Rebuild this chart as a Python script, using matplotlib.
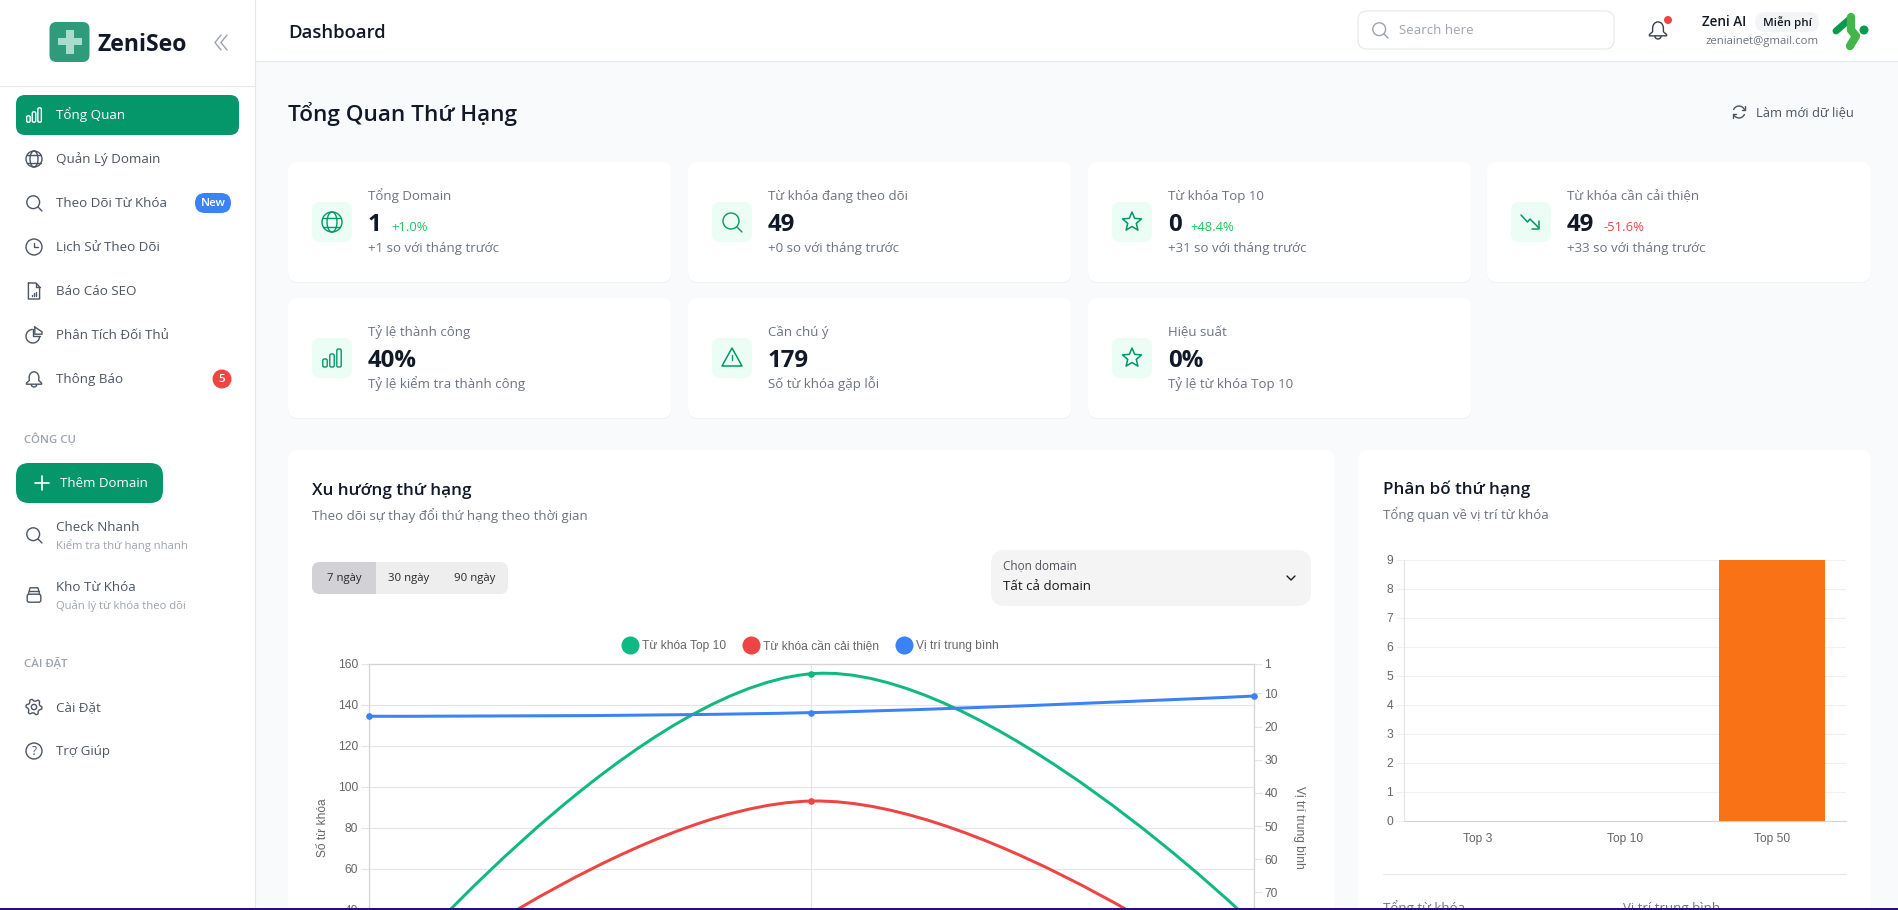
import numpy as np
import matplotlib
matplotlib.use('Agg')
import matplotlib.pyplot as plt
from matplotlib.lines import Line2D
from matplotlib.patches import FancyBboxPatch, Rectangle, Circle, Polygon, PathPatch, Arc, Ellipse
from matplotlib.path import Path

W, H = 1899, 910

# line chart data (ends of the first two series are below the visible page, estimated from the curve)
trend_x = [0, 1, 2]
top10_values = [-3, 155, 33]
improve_values = [-8, 93, 1]
avg_position = [16.9, 15.8, 10.8]
trend_labels = ['Từ khóa Top 10', 'Từ khóa cần cải thiện', 'Vị trí trung bình']
left_ticks = [40, 60, 80, 100, 120, 140, 160]
right_ticks = [1, 10, 20, 30, 40, 50, 60, 70]

# bar chart data
rank_labels = ['Top 3', 'Top 10', 'Top 50']
rank_values = [0, 0, 9]
rank_ticks = list(range(10))

# sidebar and cards text
nav_items = ['Tổng Quan', 'Quản Lý Domain', 'Theo Dõi Từ Khóa', 'Lịch Sử Theo Dõi',
             'Báo Cáo SEO', 'Phân Tích Đối Thủ', 'Thông Báo']
card_titles = ['Tổng Domain', 'Từ khóa đang theo dõi', 'Từ khóa Top 10', 'Từ khóa cần cải thiện',
               'Tỷ lệ thành công', 'Cần chú ý', 'Hiệu suất']
card_values = ['1', '49', '0', '49', '40%', '179', '0%']
card_deltas = ['+1.0%', '', '+48.4%', '-51.6%', '', '', '']
card_subs = ['+1 so với tháng trước', '+0 so với tháng trước', '+31 so với tháng trước',
             '+33 so với tháng trước', 'Tỷ lệ kiểm tra thành công', 'Số từ khóa gặp lỗi',
             'Tỷ lệ từ khóa Top 10']

GREEN = '#059669'
GRAY = '#4b5563'
plt.rcParams['font.family'] = ['Open Sans', 'DejaVu Sans']

fig = plt.figure(figsize=(W / 100, H / 100), dpi=100, facecolor='#f9fafb')
ui = fig.add_axes([0, 0, 1, 1], zorder=0)
ui.set_xlim(0, W)
ui.set_ylim(H, 0)
ui.axis('off')


def txt(x, y, s, px, color='#111827', weight='normal', ha='left'):
    # y is the visual middle of the text, px the css font size
    ui.text(x, y + 0.3 * px, s, fontsize=px * 0.72, color=color, fontweight=weight,
            ha=ha, va='baseline')


def rbox(x, y, w, h, r, fc, ec='none', lw=0, z=1):
    ui.add_patch(FancyBboxPatch((x, y), w, h, boxstyle=f'round,pad=0,rounding_size={r}',
                                fc=fc, ec=ec, lw=lw, zorder=z))


def stroke(xs, ys, color=GRAY, lw=1.0, z=3):
    ui.plot(xs, ys, color=color, lw=lw, solid_capstyle='round', solid_joinstyle='round', zorder=z)


def ring(cx, cy, r, color=GRAY, lw=1.0, fc='none'):
    ui.add_patch(Circle((cx, cy), r, fc=fc, ec=color, lw=lw, zorder=3))


def icon_bars(cx, cy, s, c):
    for dx, h in [(-0.7, 0.8), (0, 1.3), (0.7, 1.8)]:
        rbox(cx + dx * s - 0.22 * s, cy + s * 0.9 - h * s, 0.44 * s, h * s, 1.5, 'none', c, 1.0, 3)


def icon_globe(cx, cy, s, c):
    ring(cx, cy, s, c)
    ui.add_patch(Ellipse((cx, cy), s, 2 * s, fc='none', ec=c, lw=1.0, zorder=3))
    stroke([cx - s * 0.85, cx + s * 0.85], [cy - s * 0.45, cy - s * 0.45], c)
    stroke([cx - s * 0.85, cx + s * 0.85], [cy + s * 0.45, cy + s * 0.45], c)


def icon_search(cx, cy, s, c):
    ring(cx - 0.1 * s, cy - 0.1 * s, 0.8 * s, c)
    stroke([cx + 0.5 * s, cx + s], [cy + 0.5 * s, cy + s], c)


def icon_clock(cx, cy, s, c):
    ring(cx, cy, s, c)
    stroke([cx, cx, cx + 0.5 * s], [cy - 0.55 * s, cy, cy], c)


def icon_doc(cx, cy, s, c):
    stroke([cx - 0.7 * s, cx + 0.25 * s, cx + 0.7 * s, cx + 0.7 * s, cx - 0.7 * s, cx - 0.7 * s],
           [cy - s, cy - s, cy - 0.5 * s, cy + s, cy + s, cy - s], c)
    stroke([cx + 0.25 * s, cx + 0.25 * s, cx + 0.7 * s], [cy - s, cy - 0.5 * s, cy - 0.5 * s], c)
    for dx, h in [(-0.3, 0.15), (0, 0.3), (0.3, 0.5)]:
        stroke([cx + dx * s, cx + dx * s], [cy + 0.6 * s, cy + (0.6 - h) * s], c)


def icon_pie(cx, cy, s, c):
    ui.add_patch(Arc((cx - 0.15 * s, cy + 0.15 * s), 1.7 * s, 1.7 * s, theta1=0, theta2=270,
                     ec=c, lw=1.0, zorder=3))
    stroke([cx - 0.15 * s, cx - 0.15 * s, cx + 0.7 * s], [cy - 0.7 * s, cy + 0.15 * s, cy + 0.15 * s], c)
    stroke([cx + 0.1 * s, cx + 0.1 * s, cx + s, cx + s, cx + 0.1 * s],
           [cy - s, cy - 0.1 * s, cy - 0.1 * s, cy - 0.4 * s, cy - s], c)


def icon_bell(cx, cy, s, c):
    ui.add_patch(Arc((cx, cy - 0.2 * s), 1.2 * s, 1.4 * s, theta1=180, theta2=360, ec=c, lw=1.0, zorder=3))
    stroke([cx - 0.6 * s, cx - 0.6 * s, cx - 0.95 * s, cx - 0.95 * s, cx + 0.95 * s, cx + 0.95 * s,
            cx + 0.6 * s, cx + 0.6 * s],
           [cy - 0.2 * s, cy + 0.2 * s, cy + 0.5 * s, cy + 0.65 * s, cy + 0.65 * s, cy + 0.5 * s,
            cy + 0.2 * s, cy - 0.2 * s], c)
    ui.add_patch(Arc((cx, cy + 0.65 * s), 0.7 * s, 0.7 * s, theta1=0, theta2=180, ec=c, lw=1.0, zorder=3))


def icon_star(cx, cy, s, c):
    ang = np.deg2rad(np.arange(0, 360, 36) - 90)
    rad = np.array([s, 0.45 * s] * 5)
    ui.add_patch(Polygon(np.c_[cx + rad * np.cos(ang), cy + rad * np.sin(ang)], closed=True,
                         fc='none', ec=c, lw=1.1, joinstyle='round', zorder=3))


def icon_warn(cx, cy, s, c):
    ui.add_patch(Polygon([[cx, cy - s], [cx + s, cy + 0.8 * s], [cx - s, cy + 0.8 * s]], closed=True,
                         fc='none', ec=c, lw=1.1, joinstyle='round', zorder=3))
    stroke([cx, cx], [cy - 0.35 * s, cy + 0.15 * s], c)
    stroke([cx, cx], [cy + 0.45 * s, cy + 0.47 * s], c)


def icon_trend(cx, cy, s, c):
    stroke([cx - s, cx - 0.35 * s, cx - 0.1 * s, cx + 0.8 * s], [cy - s * 0.7, cy, cy - 0.3 * s, cy + 0.6 * s], c, 1.1)
    stroke([cx + 0.85 * s, cx + 0.85 * s, cx + 0.1 * s], [cy - 0.1 * s, cy + 0.65 * s, cy + 0.65 * s], c, 1.1)


def icon_box(cx, cy, s, c):
    rbox(cx - 0.85 * s, cy - 0.1 * s, 1.7 * s, 1.0 * s, 2, 'none', c, 1.0, 3)
    stroke([cx - 0.7 * s, cx - 0.5 * s, cx + 0.5 * s, cx + 0.7 * s], [cy - 0.1 * s, cy - 0.9 * s, cy - 0.9 * s, cy - 0.1 * s], c)
    stroke([cx - 0.6 * s, cx + 0.6 * s], [cy - 0.5 * s, cy - 0.5 * s], c)


def icon_gear(cx, cy, s, c):
    ang = np.deg2rad(np.arange(0, 360, 15))
    rad = np.where(np.arange(24) % 4 < 2, s, 0.75 * s)
    ui.add_patch(Polygon(np.c_[cx + rad * np.cos(ang), cy + rad * np.sin(ang)], closed=True,
                         fc='none', ec=c, lw=1.0, joinstyle='round', zorder=3))
    ring(cx, cy, 0.33 * s, c)


def icon_help(cx, cy, s, c):
    ring(cx, cy, s, c)
    ui.text(cx, cy + 0.5 * s, '?', fontsize=s * 1.05, color=c, ha='center', va='baseline', zorder=3)


def icon_refresh(cx, cy, s, c):
    ui.add_patch(Arc((cx, cy), 1.7 * s, 1.7 * s, theta1=200, theta2=340, ec=c, lw=1.0, zorder=3))
    ui.add_patch(Arc((cx, cy), 1.7 * s, 1.7 * s, theta1=20, theta2=160, ec=c, lw=1.0, zorder=3))
    stroke([cx + 0.85 * s, cx + 0.85 * s, cx + 0.45 * s], [cy - 0.85 * s, cy - 0.3 * s, cy - 0.3 * s], c)
    stroke([cx - 0.85 * s, cx - 0.85 * s, cx - 0.45 * s], [cy + 0.85 * s, cy + 0.3 * s, cy + 0.3 * s], c)


# sidebar + header
ui.add_patch(Rectangle((0, 0), 255, H, fc='white', ec='none', zorder=0.5))
ui.add_patch(Rectangle((255, 0), W - 255, 61, fc='white', ec='none', zorder=0.5))
stroke([255.5, 255.5], [0, H], '#e5e7eb', 0.8, 1)
stroke([255, W], [61, 61], '#e5e7eb', 0.8, 1)
stroke([0, 255], [86, 86], '#e5e7eb', 0.8, 1)

rbox(49.5, 22, 40, 40, 7, '#2f9b7b')
ui.add_patch(Polygon([[66, 30], [74, 30], [74, 38], [82, 38], [82, 45], [74, 45], [74, 54], [66, 54],
                      [66, 45], [58, 45], [58, 38], [66, 38]], closed=True, fc='#a9dccb', ec='none', zorder=3))
txt(98, 44, 'ZeniSeo', 23, '#111827', 'bold')
stroke([221, 215, 221], [35, 42.5, 50], '#9ca3af')
stroke([227, 221, 227], [35, 42.5, 50], '#9ca3af')

txt(288.5, 32, 'Dashboard', 18.5, '#111827', 600)
txt(288.5, 114.5, 'Tổng Quan Thứ Hạng', 22.5, '#111827', 600)

rbox(16, 95, 223, 40, 9, GREEN)
nav_icons = [icon_bars, icon_globe, icon_search, icon_clock, icon_doc, icon_pie, icon_bell]
for i, name in enumerate(nav_items):
    cy = 115 + 44 * i
    c = 'white' if i == 0 else GRAY
    nav_icons[i](34, cy, 8, c)
    txt(56, cy, name, 13.4, c)
rbox(195, 193, 36, 20, 10, '#3b82f6')
txt(213, 203, 'New', 11.5, 'white', 600, 'center')
ui.add_patch(Circle((222, 379), 9.5, fc='#ef4444', ec='none', zorder=2))
txt(222, 379, '5', 11.5, 'white', 600, 'center')

txt(24, 439.5, 'CÔNG CỤ', 11.5, '#9ca3af', 600)
rbox(16, 463, 147, 40, 13, GREEN)
stroke([42, 42], [476, 490], 'white', 1.2)
stroke([35, 49], [483, 483], 'white', 1.2)
txt(60, 483, 'Thêm Domain', 13.3, 'white')
icon_search(34, 535, 8, GRAY)
txt(56, 527, 'Check Nhanh', 13.4, GRAY)
txt(56, 546, 'Kiểm tra thứ hạng nhanh', 11.3, '#9ca3af')
icon_box(34, 595, 8, GRAY)
txt(56, 587, 'Kho Từ Khóa', 13.4, GRAY)
txt(56, 606, 'Quản lý từ khóa theo dõi', 11.3, '#9ca3af')
txt(24, 663, 'CÀI ĐẶT', 11.5, '#9ca3af', 600)
icon_gear(34, 707, 8, GRAY)
txt(56, 707, 'Cài Đặt', 13.4, GRAY)
icon_help(34, 751, 8, GRAY)
txt(56, 751, 'Trợ Giúp', 13.4, GRAY)

# header right side
rbox(1358, 11, 256, 38, 9, 'white', '#e5e7eb', 0.8)
icon_search(1380, 30, 8, '#9ca3af')
txt(1399, 30, 'Search here', 13.2, '#9ca3af')
icon_bell(1658, 30, 9, '#374151')
ui.add_patch(Circle((1668, 20), 4, fc='#ef4444', ec='none', zorder=4))
txt(1702, 22, 'Zeni AI', 13.5, '#111827', 600)
rbox(1755, 12, 64, 20, 10, '#f3f4f6')
txt(1787, 22.5, 'Miễn phí', 11.5, '#111827', 600, 'center')
txt(1819, 41, 'zeniainet@gmail.com', 11.4, '#6b7280', ha='right')
stroke([1836, 1851], [31, 18], '#0a9a4f', 5)
stroke([1851, 1851, 1856, 1850], [17, 30, 36, 46], '#43b649', 6)
ui.add_patch(Circle((1864, 30), 4.5, fc='#0a9a4f', ec='none', zorder=4))
icon_refresh(1739, 112, 7, GRAY)
txt(1756, 112.5, 'Làm mới dữ liệu', 13, GRAY)

# stat cards
card_x = [288, 688, 1088, 1487]
card_icons = [icon_globe, icon_search, icon_star, icon_trend, icon_bars, icon_warn, icon_star]
delta_x = [391, None, 1190.5, 1603.5]
for i, title in enumerate(card_titles):
    x0 = card_x[i % 4]
    y0 = 162 + 136 * (i // 4)
    rbox(x0, y0 + 1, 383.5, 120, 10, '#f0f1f3')
    rbox(x0, y0, 383.5, 120, 10, 'white', z=1.5)
    rbox(x0 + 24, y0 + 40, 40, 40, 8, '#ecfdf5', z=2)
    card_icons[i](x0 + 44, y0 + 60, 10, GREEN)
    txt(x0 + 80, y0 + 34, title, 13.3, '#6b7280')
    txt(x0 + 80, y0 + 62, card_values[i], 24, '#111827', 'bold')
    if card_deltas[i]:
        col = '#ef4444' if card_deltas[i][0] == '-' else '#22c55e'
        txt(delta_x[i], y0 + 65, card_deltas[i], 13, col)
    txt(x0 + 80, y0 + 86, card_subs[i], 13.3, '#6b7280')

# chart cards
rbox(288, 450, 1047, 600, 10, 'white')
txt(312, 490, 'Xu hướng thứ hạng', 17, '#111827', 600)
txt(312, 516.5, 'Theo dõi sự thay đổi thứ hạng theo thời gian', 13.2, '#6b7280')
rbox(312, 562, 196, 32, 8, '#eeeeef')
rbox(312, 562, 64, 32, 8, '#d1d1d6', z=1.5)
ui.add_patch(Rectangle((360, 562), 16, 32, fc='#d1d1d6', ec='none', zorder=1.5))
for cx, lab in zip([344, 409, 475], ['7 ngày', '30 ngày', '90 ngày']):
    txt(cx, 578, lab, 11.4, '#27272a', ha='center')
rbox(991, 550, 320, 56, 14, '#f4f4f5')
txt(1003, 566, 'Chọn domain', 11.7, '#52525b')
txt(1003, 586.5, 'Tất cả domain', 13.3, '#18181b')
stroke([1287, 1291, 1295], [576, 580, 576], '#18181b', 1.0)

rbox(1358.5, 450, 512.5, 600, 10, 'white')
txt(1383.5, 489, 'Phân bố thứ hạng', 17, '#111827', 600)
txt(1383.5, 515.5, 'Tổng quan về vị trí từ khóa', 13.2, '#6b7280')
stroke([1383, 1846], [874, 874], '#e5e7eb', 0.8)
txt(1383.5, 908, 'Tổng từ khóa', 13.3, '#6b7280')
txt(1623.5, 908, 'Vị trí trung bình', 13.3, '#6b7280')


def axes_px(x0, y0, x1, y1, **kw):
    return fig.add_axes([x0 / W, (H - y1) / H, (x1 - x0) / W, (y1 - y0) / H], **kw)


def spline_path(xs, ys, sx, sy, t=0.4):
    # same cubic segments chart.js draws for tension 0.4
    xs, ys = np.array(xs, float), np.array(ys, float)
    before, after = {}, {}
    for i in range(1, len(xs) - 1):
        d1 = np.hypot((xs[i] - xs[i - 1]) * sx, (ys[i] - ys[i - 1]) * sy)
        d2 = np.hypot((xs[i + 1] - xs[i]) * sx, (ys[i + 1] - ys[i]) * sy)
        fa, fb = t * d1 / (d1 + d2), t * d2 / (d1 + d2)
        dx, dy = xs[i + 1] - xs[i - 1], ys[i + 1] - ys[i - 1]
        before[i] = (xs[i] - fa * dx, ys[i] - fa * dy)
        after[i] = (xs[i] + fb * dx, ys[i] + fb * dy)
    verts = [(xs[0], ys[0])]
    codes = [Path.MOVETO]
    for i in range(len(xs) - 1):
        verts += [after.get(i, (xs[i], ys[i])), before.get(i + 1, (xs[i + 1], ys[i + 1])), (xs[i + 1], ys[i + 1])]
        codes += [Path.CURVE4] * 3
    return Path(verts, codes)


# line chart, runs past the bottom of the page like the screenshot
L_X0, L_X1, L_Y0, L_Y1 = 368.6, 1254, 663.5, 992
ax = axes_px(L_X0, L_Y0, L_X1, L_Y1, zorder=2, facecolor='none')
ax.set_xlim(0, 2)
ax.set_ylim(0, 160)
ax.set_yticks(left_ticks)
ax.set_xticks(trend_x)
ax.set_xticklabels([])
ax.grid(True, color='#e5e5e5', lw=0.8)
ax.set_axisbelow(True)
ax2 = ax.twinx()
ax2.set_zorder(3)
ax2.set_ylim(100, 1)
ax2.set_yticks(right_ticks)
for a in (ax, ax2):
    a.tick_params(axis='y', labelsize=8.64, labelcolor='#666666', color='#e5e5e5', length=6, width=0.8, pad=1.5,
                  labelfontfamily='Liberation Sans')
    for sp in a.spines.values():
        sp.set_color('#d4d4d4')
        sp.set_linewidth(0.8)
ax.tick_params(axis='x', length=0)
ax.set_ylabel('Số từ khóa', fontsize=8.64, color='#666666', family='Liberation Sans')
ax.yaxis.set_label_coords(-0.0447, 0.5)
ax2.set_ylabel('Vị trí trung bình', fontsize=8.64, color='#666666', family='Liberation Sans', rotation=-90, va='center')
ax2.yaxis.set_label_coords(1.051, 0.5)

sx = (L_X1 - L_X0) / 2
sy_left = (L_Y1 - L_Y0) / 160
sy_right = (L_Y1 - L_Y0) / 99
series = [(ax, top10_values, '#10b981', sy_left), (ax, improve_values, '#ef4444', sy_left),
          (ax2, avg_position, '#3b82f6', sy_right)]
for a, vals, col, sy in series:
    a.add_patch(PathPatch(spline_path(trend_x, vals, sx, sy), fc='none', ec=col, lw=2.16, zorder=3))
    a.plot(trend_x, vals, 'o', color=col, ms=4.8, mew=0, zorder=4, clip_on=False)

handles = [Line2D([], [], marker='o', ls='none', color=c, ms=13, mew=0) for c in ['#10b981', '#ef4444', '#3b82f6']]
ax2.legend(handles, trend_labels, ncol=3, loc='center', bbox_to_anchor=(810 / W, (H - 646) / H),
           bbox_transform=fig.transFigure, frameon=False, borderpad=0, handlelength=1.5, handletextpad=0.25,
           columnspacing=1.33, prop={'family': 'Liberation Sans', 'size': 8.64}, labelcolor='#666666')

# bar chart
bx = axes_px(1403.5, 559.5, 1846, 820.5, zorder=2, facecolor='none')
bx.bar(range(3), rank_values, width=0.717, color='#f97316', zorder=3)
bx.set_xlim(-0.5, 2.5)
bx.set_ylim(0, 9)
bx.set_yticks(rank_ticks)
bx.set_xticks(range(3))
bx.set_xticklabels(rank_labels, family='Liberation Sans')
bx.grid(True, axis='y', color='#f0f0f0', lw=0.8)
bx.set_axisbelow(True)
bx.tick_params(axis='y', labelsize=8.64, labelcolor='#666666', color='#f0f0f0', length=6, width=0.8, pad=1.5,
               labelfontfamily='Liberation Sans')
bx.tick_params(axis='x', labelsize=8.64, labelcolor='#666666', length=0, pad=9)
bx.spines['top'].set_visible(False)
bx.spines['right'].set_visible(False)
bx.spines['left'].set_color('#e5e5e5')
bx.spines['bottom'].set_color('#d4d4d4')
for sp in ('left', 'bottom'):
    bx.spines[sp].set_linewidth(0.8)

# thin dark strip at the very bottom of the screenshot
fig.add_artist(Rectangle((0, 0), 1, 2 / H, transform=fig.transFigure, fc='#2a0f6e', ec='none', zorder=10))

fig.savefig('out.png', dpi=100, facecolor=fig.get_facecolor())
